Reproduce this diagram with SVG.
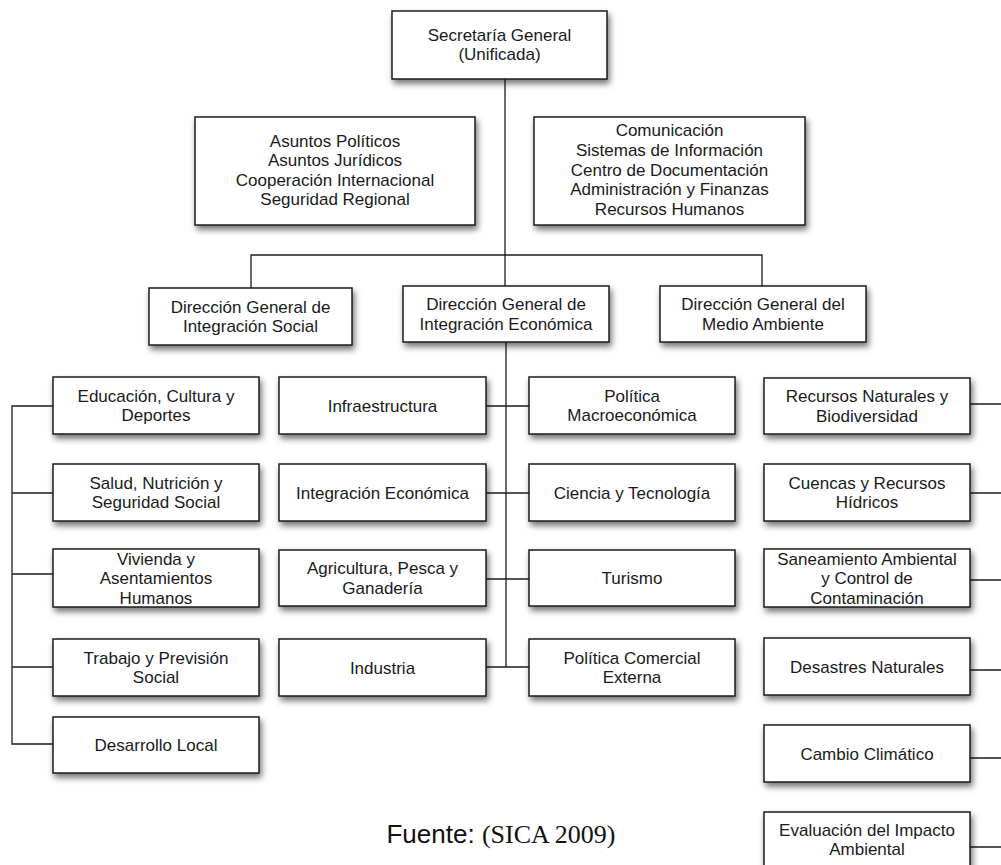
<svg xmlns="http://www.w3.org/2000/svg" width="1001" height="865" viewBox="0 0 1001 865">
<style>
.box{fill:#fff;stroke:#1c1c1c;stroke-width:1.5;filter:url(#sh)}
.t{font-family:"Liberation Sans",Arial,sans-serif;font-size:17px;fill:#1a1a1a;text-anchor:middle}
.c{fill:none;stroke:#1c1c1c;stroke-width:1.3}
</style>
<defs>
<filter id="sh" x="-10%" y="-15%" width="130%" height="150%">
<feDropShadow dx="2" dy="4" stdDeviation="3" flood-color="#000" flood-opacity="0.55"/>
</filter>
</defs>
<rect width="1001" height="865" fill="#fff"/>
<g id="connectors" class="c">
<path d="M505 79V286"/>
<path d="M251 288V255H762V286"/>
<path d="M506 342V667"/>
<path d="M486 406H529M486 493H529M486 579H529M486 667H529"/>
<path d="M53 406H12V744H53M12 493H53M12 574H53M12 667H53"/>
<path d="M970 404H1001M970 493H1001M970 580H1001M970 670H1001M970 758H1001M970 847H1001"/>
</g>
<g id="secretaria"><rect class="box" x="392" y="11" width="215" height="68"/><text class="t"><tspan x="499.5" y="40.5">Secretaría General</tspan><tspan x="499.5" y="60">(Unificada)</tspan></text></g>
<g id="asuntos"><rect class="box" x="195" y="117" width="280" height="108"/><text class="t"><tspan x="335" y="147">Asuntos Políticos</tspan><tspan x="335" y="166.3">Asuntos Jurídicos</tspan><tspan x="335" y="185.6">Cooperación Internacional</tspan><tspan x="335" y="204.9">Seguridad Regional</tspan></text></g>
<g id="comunicacion"><rect class="box" x="534" y="117" width="271" height="108"/><text class="t"><tspan x="669.5" y="136">Comunicación</tspan><tspan x="669.5" y="155.8">Sistemas de Información</tspan><tspan x="669.5" y="175.6">Centro de Documentación</tspan><tspan x="669.5" y="195.4">Administración y Finanzas</tspan><tspan x="669.5" y="215.2">Recursos Humanos</tspan></text></g>
<g id="dg_social"><rect class="box" x="149" y="288" width="203" height="57"/><text class="t"><tspan x="250.5" y="312.75">Dirección General de</tspan><tspan x="250.5" y="332.25">Integración Social</tspan></text></g>
<g id="dg_economica"><rect class="box" x="403" y="286" width="206" height="56"/><text class="t"><tspan x="506" y="310.25">Dirección General de</tspan><tspan x="506" y="329.75">Integración Económica</tspan></text></g>
<g id="dg_medio"><rect class="box" x="660" y="286" width="206" height="56"/><text class="t"><tspan x="763" y="310.25">Dirección General del</tspan><tspan x="763" y="329.75">Medio Ambiente</tspan></text></g>
<g id="educacion"><rect class="box" x="53" y="377" width="206" height="57"/><text class="t"><tspan x="156" y="401.75">Educación, Cultura y</tspan><tspan x="156" y="421.25">Deportes</tspan></text></g>
<g id="salud"><rect class="box" x="53" y="464" width="206" height="57"/><text class="t"><tspan x="156" y="488.75">Salud, Nutrición y</tspan><tspan x="156" y="508.25">Seguridad Social</tspan></text></g>
<g id="vivienda"><rect class="box" x="53" y="549" width="206" height="58"/><text class="t"><tspan x="156" y="564.5">Vivienda y</tspan><tspan x="156" y="584">Asentamientos</tspan><tspan x="156" y="603.5">Humanos</tspan></text></g>
<g id="trabajo"><rect class="box" x="53" y="639" width="206" height="57"/><text class="t"><tspan x="156" y="663.75">Trabajo y Previsión</tspan><tspan x="156" y="683.25">Social</tspan></text></g>
<g id="desarrollo"><rect class="box" x="53" y="717" width="206" height="56"/><text class="t"><tspan x="156" y="751">Desarrollo Local</tspan></text></g>
<g id="infraestructura"><rect class="box" x="279" y="377" width="207" height="57"/><text class="t"><tspan x="382.5" y="411.5">Infraestructura</tspan></text></g>
<g id="integracion"><rect class="box" x="279" y="464" width="207" height="57"/><text class="t"><tspan x="382.5" y="498.5">Integración Económica</tspan></text></g>
<g id="agricultura"><rect class="box" x="279" y="550" width="207" height="56"/><text class="t"><tspan x="382.5" y="574.25">Agricultura, Pesca y</tspan><tspan x="382.5" y="593.75">Ganadería</tspan></text></g>
<g id="industria"><rect class="box" x="279" y="639" width="207" height="57"/><text class="t"><tspan x="382.5" y="673.5">Industria</tspan></text></g>
<g id="macro"><rect class="box" x="529" y="377" width="206" height="57"/><text class="t"><tspan x="632" y="401.75">Política</tspan><tspan x="632" y="421.25">Macroeconómica</tspan></text></g>
<g id="ciencia"><rect class="box" x="529" y="464" width="206" height="57"/><text class="t"><tspan x="632" y="498.5">Ciencia y Tecnología</tspan></text></g>
<g id="turismo"><rect class="box" x="529" y="550" width="206" height="56"/><text class="t"><tspan x="632" y="584">Turismo</tspan></text></g>
<g id="comercial"><rect class="box" x="529" y="639" width="206" height="57"/><text class="t"><tspan x="632" y="663.75">Política Comercial</tspan><tspan x="632" y="683.25">Externa</tspan></text></g>
<g id="recursos"><rect class="box" x="764" y="378" width="206" height="56"/><text class="t"><tspan x="867" y="402.25">Recursos Naturales y</tspan><tspan x="867" y="421.75">Biodiversidad</tspan></text></g>
<g id="cuencas"><rect class="box" x="764" y="464" width="206" height="57"/><text class="t"><tspan x="867" y="488.75">Cuencas y Recursos</tspan><tspan x="867" y="508.25">Hídricos</tspan></text></g>
<g id="saneamiento"><rect class="box" x="764" y="549" width="206" height="58"/><text class="t"><tspan x="867" y="564.5">Saneamiento Ambiental</tspan><tspan x="867" y="584">y Control de</tspan><tspan x="867" y="603.5">Contaminación</tspan></text></g>
<g id="desastres"><rect class="box" x="764" y="638" width="206" height="57"/><text class="t"><tspan x="867" y="672.5">Desastres Naturales</tspan></text></g>
<g id="cambio"><rect class="box" x="764" y="725" width="206" height="57"/><text class="t"><tspan x="867" y="759.5">Cambio Climático</tspan></text></g>
<g id="evaluacion"><rect class="box" x="764" y="812" width="206" height="57"/><text class="t"><tspan x="867" y="835.5">Evaluación del Impacto</tspan><tspan x="867" y="855">Ambiental</tspan></text></g>
<text x="501" y="843" text-anchor="middle" font-size="26" fill="#111"><tspan font-family="Liberation Sans, Arial, sans-serif">Fuente: </tspan><tspan font-family="Liberation Serif, Times New Roman, serif">(SICA 2009)</tspan></text>
</svg>
